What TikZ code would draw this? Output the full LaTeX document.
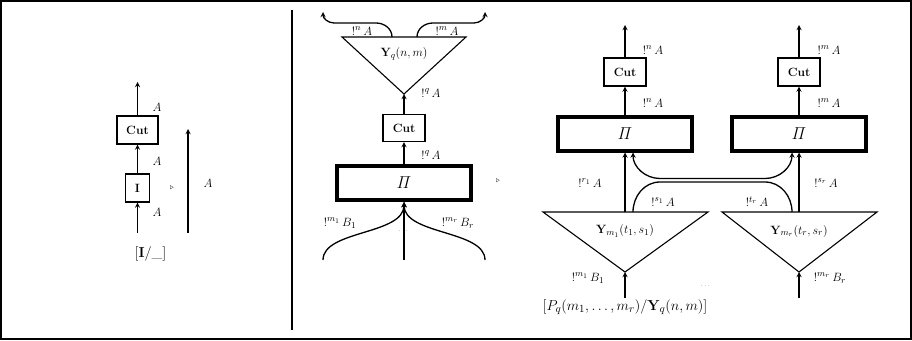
\documentclass[tikz,border=0pt]{standalone}
\usepackage{amsfonts}
\usepackage{amssymb}
\usepackage{amsmath}
\usepackage[dvipsnames]{xcolor}
\usetikzlibrary{positioning}
\DeclareMathSizes{12}{12}{9.5}{7}
\DeclareMathSizes{14.5}{14.5}{11}{8}

\tikzset{
  fil/.style={->,>=stealth,line width=1.3pt},
  boite/.style={draw,line width=1.1pt,inner sep=0pt,minimum width=42pt,minimum height=28pt,font=\bfseries\fontsize{12}{14}\selectfont},
  boitepi/.style={draw,line width=4pt,inner sep=0pt,minimum width=134pt,minimum height=34pt,font=\fontsize{16}{18}\selectfont},
  etiq/.style={font=\fontsize{12}{14}\selectfont,inner sep=1pt},
  tri/.style={line width=1.1pt,line join=miter},
  petit/.style={font=\scriptsize,inner sep=0pt},
  titre/.style={font=\fontsize{14.5}{17}\selectfont},
}

\begin{document}
\begin{tikzpicture}[x=1pt,y=-1pt]
\useasboundingbox (0,0) rectangle (912,340);
%cadre
\draw[line width=1.5pt] (1,1) rectangle (911,339);
\draw[line width=1.5pt] (292,10) -- (292,330);

%partie gauche
\node[boite,minimum width=41pt] (cutI) at (137.5,130) {Cut};
\node[boite,minimum width=24pt] (axI) at (137.5,188) {I};
\coordinate (basI) at (137.5,233);
\coordinate (hautI) at (137.5,82);
\draw[fil] (basI) -- (axI.south);
\draw[fil] (axI.north) -- (cutI.south);
\draw[fil] (cutI.north) -- (hautI);
\node[etiq] (aI1) at (157,107) {$A$};
\node[etiq] (aI2) at (157,161) {$A$};
\node[etiq] (aI3) at (157,212) {$A$};
\node[petit] (redI) at (172,188) {$\triangleright$};
\coordinate (basJ) at (188,233);
\coordinate (hautJ) at (188,129);
\draw[fil] (basJ) -- (hautJ);
\node[etiq] (aJ) at (208,183) {$A$};
\node[titre] (titI) at (150.5,254) {$[\mathbf{I}/\_]$};

%partie milieu
\coordinate (yg) at (342,37);
\coordinate (yd) at (466,37);
\coordinate (yb) at (404,94);
\draw[tri] (yg) -- (yd) -- (yb) -- cycle;
\node[etiq] (yq) at (404,54) {$\mathbf{Y}_q(n,m)$};
\node[boite,minimum height=27pt] (cutM) at (404,128) {Cut};
\node[boitepi] (piM) at (404,183) {$\mathit{\Pi}$};
\draw[fil] (piM.north) -- (cutM.south);
\draw[fil] (cutM.north) -- (yb);
\node[etiq] (qa1) at (431,93) {$!^q\,A$};
\node[etiq] (qa2) at (431,155) {$!^q\,A$};
%sorties du Y
\coordinate (sg) at (392,37);
\coordinate (sgh) at (323,12);
\coordinate (sd) at (417,37);
\coordinate (sdh) at (485,12);
\draw[fil] (sg) to[out=90,in=0] ++(-16,-14) -- ++(-42,0) to[out=180,in=-90] (sgh);
\draw[fil] (sd) to[out=90,in=180] ++(16,-14) -- ++(41,0) to[out=0,in=-90] (sdh);
\node[etiq] (na) at (362,31) {$!^n\,A$};
\node[etiq] (ma) at (447,31) {$!^m\,A$};
%entrees du Pi
\coordinate (em) at (404,260);
\coordinate (eg) at (323,260);
\coordinate (ed) at (485,260);
\draw[fil] (em) -- (piM.south);
\draw[fil] (eg) .. controls +(0,-30) and +(0,33) .. (piM.south);
\draw[fil] (ed) .. controls +(0,-30) and +(0,33) .. (piM.south);
\node[etiq] (mb1) at (340,223) {$!^{m_1}\,B_1$};
\node[etiq] (mbr) at (458,223) {$!^{m_r}\,B_r$};
\node[petit,font=\tiny] (ptsM) at (404,231) {$\cdots$};
\node[petit] (redM) at (498,181) {$\triangleright$};

%partie droite
\node[boite] (cutG) at (625,72) {Cut};
\node[boite] (cutD) at (799,72) {Cut};
\node[boitepi] (piG) at (625,133.5) {$\mathit{\Pi}$};
\node[boitepi] (piD) at (799,133.5) {$\mathit{\Pi}$};
\coordinate (hG) at (625,25);
\coordinate (hD) at (799,25);
\draw[fil] (cutG.north) -- (hG);
\draw[fil] (cutD.north) -- (hD);
\draw[fil] (piG.north) -- (cutG.south);
\draw[fil] (piD.north) -- (cutD.south);
\node[etiq] (naG1) at (653,50) {$!^n\,A$};
\node[etiq] (naG2) at (653,103) {$!^n\,A$};
\node[etiq] (maD1) at (829,50) {$!^m\,A$};
\node[etiq] (maD2) at (829,103) {$!^m\,A$};
%triangles Y
\coordinate (tg1) at (543,212);
\coordinate (tg2) at (708,212);
\coordinate (tgb) at (625,272);
\coordinate (td1) at (722,212);
\coordinate (td2) at (877,212);
\coordinate (tdb) at (799,272);
\draw[tri] (tg1) -- (tg2) -- (tgb) -- cycle;
\draw[tri] (td1) -- (td2) -- (tdb) -- cycle;
\node[etiq] (ym1) at (625,231) {$\mathbf{Y}_{m_1}(t_1,s_1)$};
\node[etiq] (ymr) at (799,231) {$\mathbf{Y}_{m_r}(t_r,s_r)$};
\coordinate (vg) at (625,212);
\coordinate (vd) at (799,212);
\draw[fil] (vg) -- (piG.south);
\draw[fil] (vd) -- (piD.south);
%croisement
\coordinate (xg) at (633,212);
\coordinate (xd) at (792,212);
\draw[line width=1.3pt] (xg) to[out=90,in=180] ++(27,-30) -- ++(105,0) to[out=0,in=90] (xd);
\draw[fil,<->] ([xshift=8pt]piG.south) to[out=-90,in=180] ++(27,26) -- ++(105,0) to[out=0,in=-90] ([xshift=-7pt]piD.south);
\node[etiq] (r1a) at (590,183) {$!^{r_1}\,A$};
\node[etiq] (s1a) at (663,202) {$!^{s_1}\,A$};
\node[etiq] (tra) at (757,202) {$!^{t_r}\,A$};
\node[etiq] (sra) at (826,183) {$!^{s_r}\,A$};
\coordinate (bG) at (625,298);
\coordinate (bD) at (799,298);
\draw[fil] (bG) -- (tgb);
\draw[fil] (bD) -- (tdb);
\node[etiq] (mbG) at (588,278) {$!^{m_1}\,B_1$};
\node[etiq] (mbD) at (830,278) {$!^{m_r}\,B_r$};
\node[petit,font=\tiny] (ptsD) at (706,286) {$\cdots$};
\node[titre] (titD) at (625,307) {$[P_q(m_1,\ldots,m_r)/\mathbf{Y}_q(n,m)]$};
\end{tikzpicture}
\end{document}
